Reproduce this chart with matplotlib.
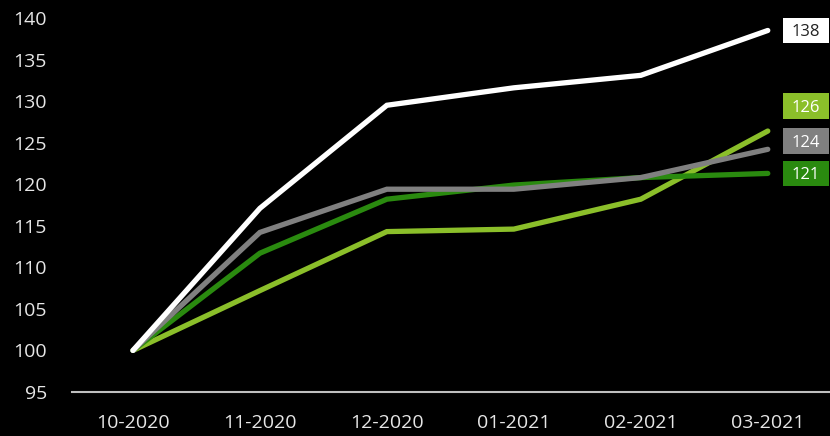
import matplotlib
matplotlib.use("Agg")
import matplotlib.pyplot as plt
from matplotlib.patches import Rectangle

months = ["10-2020", "11-2020", "12-2020", "01-2021", "02-2021", "03-2021"]
series_white = [100, 117.1, 129.5, 131.6, 133.1, 138.5]
series_gray = [100, 114.2, 119.4, 119.4, 120.8, 124.2]
series_dgreen = [100, 111.7, 118.2, 119.9, 120.8, 121.3]
series_lgreen = [100, 107.2, 114.3, 114.6, 118.2, 126.4]
end_labels = ["138", "124", "121", "126"]

colors = ["#ffffff", "#808080", "#2a8a0f", "#8bbf2a"]
label_text_colors = ["#222222", "#ffffff", "#ffffff", "#ffffff"]
label_y_shift = [0.0, 1.0, 0.0, 3.0]  # layout offsets to avoid overlap

plt.rcParams['font.family'] = ['Open Sans', 'DejaVu Sans']

fig = plt.figure(figsize=(8.3, 4.36), dpi=100, facecolor="black")
ax = fig.add_axes([72/830, 44/436, 1 - 72/830, (392-18)/436])
ax.set_facecolor("black")

x = list(range(len(months)))
all_series = [series_white, series_gray, series_dgreen, series_lgreen]
order = [3, 2, 1, 0]
for i in order:
    ax.plot(x, all_series[i], color=colors[i], lw=3.8, solid_capstyle="round",
            solid_joinstyle="miter", zorder=3 + (i == 0))

box_cx, box_w, box_h = 5.30, 0.36, 3.1
for i, s in enumerate(all_series):
    cy = s[-1] + label_y_shift[i]
    ax.add_patch(Rectangle((box_cx - box_w / 2, cy - box_h / 2), box_w, box_h,
                           facecolor=colors[i], edgecolor="none", zorder=5, clip_on=False))
    ax.text(box_cx, cy, end_labels[i], color=label_text_colors[i],
            fontsize=12, ha="center", va="center_baseline", zorder=6)

ax.set_xlim(-0.48, 5.49)
ax.set_ylim(95, 140)
ax.set_yticks(range(95, 141, 5))
ax.set_xticks(x)
ax.set_xticklabels(months)
for sp in ["top", "right", "left"]:
    ax.spines[sp].set_visible(False)
ax.spines["bottom"].set_color("#bfbfbf")
ax.spines["bottom"].set_linewidth(1.5)
ax.tick_params(axis="both", length=0, colors="#e6e6e6", labelsize=14)
ax.tick_params(axis="x", pad=16)
ax.tick_params(axis="y", pad=18)

fig.savefig("out.png", dpi=100, facecolor="black")
